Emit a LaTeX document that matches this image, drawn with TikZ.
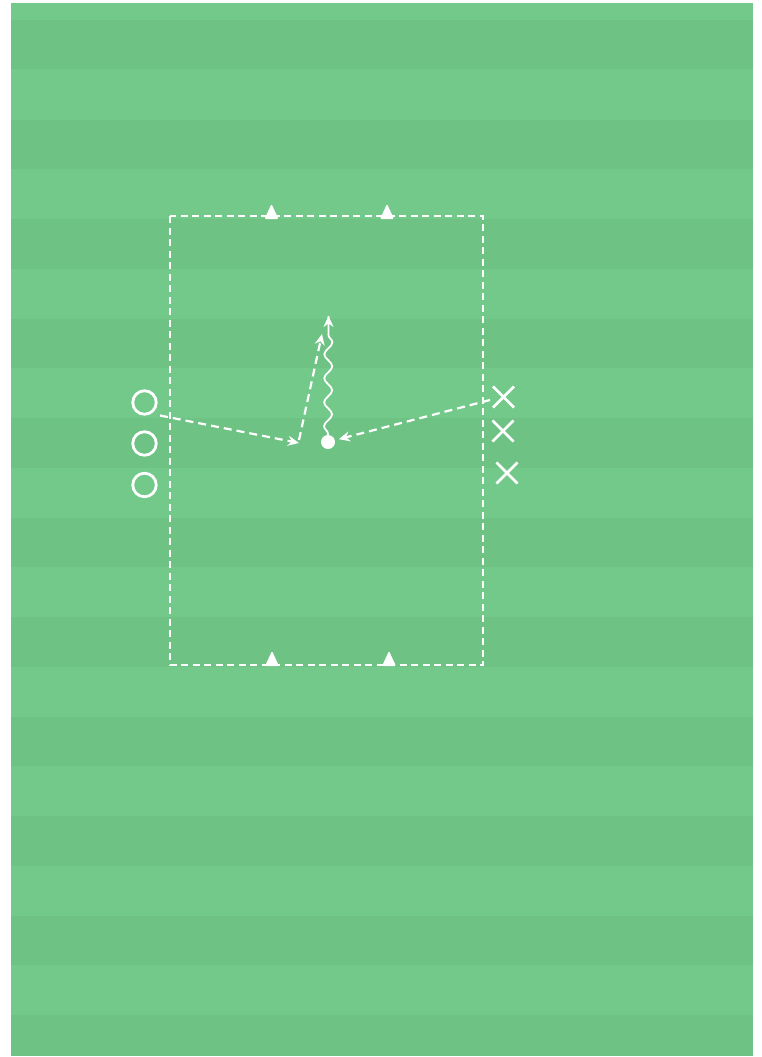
\documentclass[tikz,border=0pt]{standalone}
\usetikzlibrary{arrows.meta,shapes.misc,decorations.pathmorphing,calc}
\definecolor{fieldlight}{RGB}{115,201,138}
\definecolor{fielddark}{RGB}{109,194,132}
\begin{document}
\begin{tikzpicture}[x=1pt,y=-1pt,
  oplayer/.style={circle,draw=white,line width=2.8pt,minimum size=23.5pt,inner sep=0pt},
  xplayer/.style={cross out,draw=white,line width=2.6pt,minimum size=18.5pt,inner sep=0pt},
  ballnode/.style={circle,fill=white,minimum size=14pt,inner sep=0pt},
  arealine/.style={white,line width=1.5pt,dash pattern=on 7pt off 4.5pt},
  passline/.style={white,line width=2.2pt,dash pattern=on 8pt off 5pt,-{Stealth[length=11pt,width=10pt]}},
  dribble/.style={white,line width=1.8pt,decorate,decoration={snake,amplitude=4pt,segment length=24pt,pre length=1pt,post length=8pt}},
  conefill/.style={white,rounded corners=1.2pt}]
\useasboundingbox (0,0) rectangle (761,1057);
\fill[white] (0,0) rectangle (761,1057);
% field stripes
\fill[fieldlight] (11,3) rectangle (753,1056);
\foreach \k in {0,...,10}{
  \fill[fielddark] (11,{20+99.5*\k}) rectangle (753,{min(69.5+99.5*\k,1056)});
}
% area
\draw[arealine] (170,216) rectangle (483,665);
% cones
\foreach \n/\cx/\cy in {c1/271.5/219,c2/387/219,c3/272/666,c4/389/666}{
  \coordinate (\n) at (\cx,\cy);
  \fill[conefill] ($(\n)+(-7,0)$) -- ($(\n)+(0,-15)$) -- ($(\n)+(7,0)$) -- cycle;
}
% players
\node[oplayer] (o1) at (144.5,402.5) {};
\node[oplayer] (o2) at (144.5,443.5) {};
\node[oplayer] (o3) at (144.5,485) {};
\node[xplayer] (x1) at (503.5,397) {};
\node[xplayer] (x2) at (503,431) {};
\node[xplayer] (x3) at (507,473) {};
\node[ballnode] (ball) at (328,442) {};
% movement points
\coordinate (s1) at (160,415.5);
\coordinate (p1) at (299,443);
\coordinate (p1b) at (299,440);
\coordinate (p2) at (322,334);
\coordinate (s2) at (490,400);
\coordinate (d1) at (328.5,316);
\coordinate (d0) at (328.5,326);
% connectors
\draw[passline] (s1) -- (p1);
\draw[passline] (p1b) -- (p2);
\draw[dribble] (ball.north) -- (d1);
\draw[white,line width=1.8pt,-{Stealth[length=11pt,width=10pt]}] (d0) -- (d1);
\draw[passline,shorten >=4pt] (s2) -- (ball);
\end{tikzpicture}
\end{document}
